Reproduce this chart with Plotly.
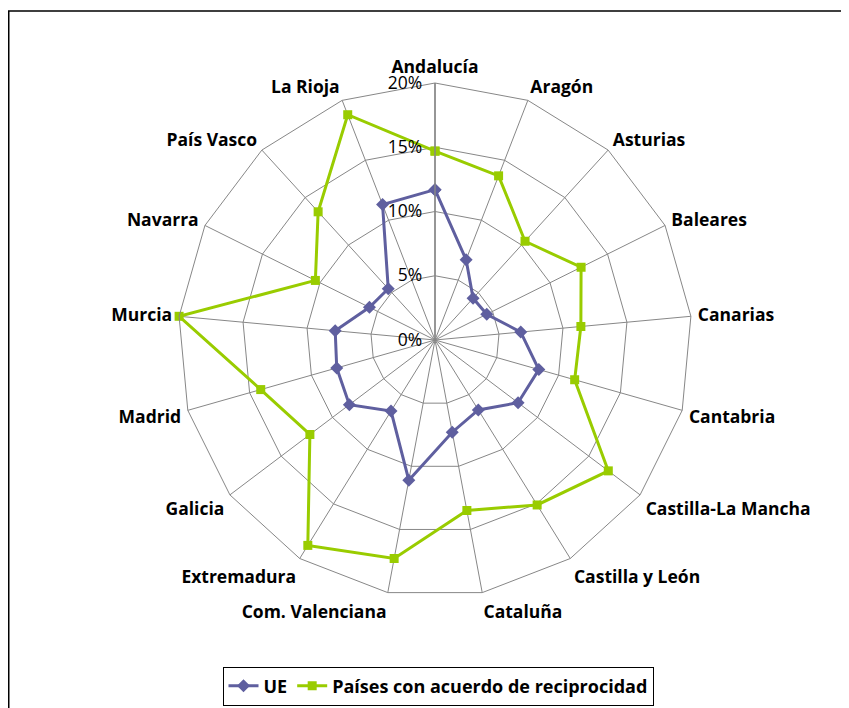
import plotly.graph_objects as go

categories = ["Andalucía", "Aragón", "Asturias", "Baleares", "Canarias", "Cantabria",
              "Castilla-La Mancha", "Castilla y León", "Cataluña", "Com. Valenciana",
              "Extremadura", "Galicia", "Madrid", "Murcia", "Navarra", "País Vasco", "La Rioja"]
ue = [11.7, 6.7, 4.4, 4.5, 6.7, 8.4, 8.1, 6.4, 7.3, 11.1, 6.5, 8.35, 7.95, 7.8, 5.7, 5.4, 11.3]
reciprocidad = [14.7, 13.7, 10.4, 12.7, 11.4, 11.3, 16.9, 15.1, 13.5, 17.3, 18.8, 12.2, 14.1, 20.0, 10.4, 13.5, 18.8]
radial_ticks = [0, 5, 10, 15, 20]
radial_labels = ["0%", "5%", "10%", "15%", "20%"]

W, H = 849, 708
OFF = 8  # page body margin
cx, cy, R = 435 - OFF, 340 - OFF, 257

FONT = "Open Sans, Noto Sans, sans-serif"

fig = go.Figure()
fig.add_trace(go.Scatterpolar(
    r=ue + ue[:1], theta=categories + categories[:1], name="UE", mode="lines+markers",
    line=dict(color="#5F5F9F", width=3),
    marker=dict(symbol="diamond", size=10, color="#5F5F9F")))
fig.add_trace(go.Scatterpolar(
    r=reciprocidad + reciprocidad[:1], theta=categories + categories[:1],
    name="Países con acuerdo de reciprocidad", mode="lines+markers",
    line=dict(color="#99CC00", width=3),
    marker=dict(symbol="square", size=9, color="#99CC00")))

fig.update_layout(
    width=W, height=H,
    margin=dict(l=0, r=0, t=0, b=0),
    paper_bgcolor="white",
    font=dict(family=FONT, color="black"),
    polar=dict(
        domain=dict(x=[(cx - R) / W, (cx + R) / W], y=[(H - cy - R) / H, (H - cy + R) / H]),
        bgcolor="white",
        gridshape="linear",
        angularaxis=dict(
            rotation=90, direction="clockwise",
            showline=True, linecolor="#878787", linewidth=1,
            gridcolor="#878787", gridwidth=1,
            ticks="outside", ticklen=3, tickcolor="rgba(0,0,0,0)",
            tickfont=dict(size=17.5, family=FONT, color="black", weight="bold"),
        ),
        radialaxis=dict(
            range=[0, 20], angle=90, tickangle=90,
            tickvals=radial_ticks, ticktext=radial_labels,
            showline=True, linecolor="#878787", linewidth=1.5,
            gridcolor="#878787", gridwidth=1,
            ticks="outside", ticklen=6, tickcolor="rgba(0,0,0,0)",
            side="counterclockwise",
            tickfont=dict(size=17.5, family=FONT, color="black"),
        ),
    ),
    legend=dict(
        orientation="h", x=(438 - OFF) / W, xanchor="center", y=(H - (686 - OFF)) / H, yanchor="middle",
        bordercolor="black", borderwidth=1, bgcolor="white",
        font=dict(size=18, family=FONT, color="black", weight="bold"),
        itemwidth=30,
    ),
    shapes=[dict(type="rect", xref="paper", yref="paper",
                 x0=0.75 / W, x1=(W + 30) / W, y0=-30 / H, y1=(H - (11 - OFF)) / H,
                 line=dict(color="black", width=1.5))],
)

fig.write_html("out.html")
